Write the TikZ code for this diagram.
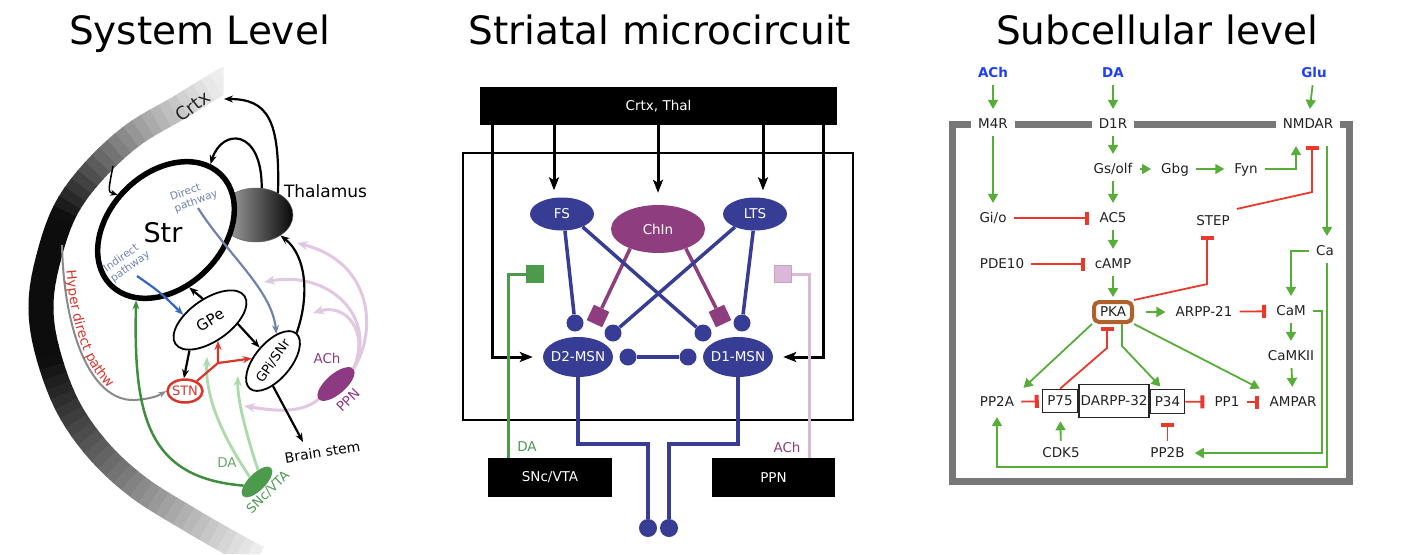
\documentclass[tikz,border=0pt]{standalone}
\usepackage{fontspec}
\setmainfont{DejaVu Sans}
\usetikzlibrary{arrows.meta,shapes.geometric,calc,decorations.text}
\definecolor{mblue}{HTML}{373D94}
\definecolor{mpurple}{HTML}{8E3E7E}
\definecolor{mgreen}{HTML}{4C9A4C}
\definecolor{lpurple}{HTML}{D9B8D9}
\definecolor{rgreen}{HTML}{56AD38}
\definecolor{rred}{HTML}{E8392C}
\definecolor{pkabrown}{HTML}{B0612B}
\definecolor{memgray}{HTML}{777777}
\definecolor{sigblue}{HTML}{1F3FF0}
\definecolor{dpath}{HTML}{6F84AD}
\definecolor{ipath}{HTML}{3566C2}
\definecolor{stnred}{HTML}{D9362B}
\definecolor{dagreen}{HTML}{3E8E3E}
\definecolor{lgreen}{HTML}{ABDBAB}
\definecolor{achpink}{HTML}{E2C7E2}
\definecolor{ppnpurple}{HTML}{8E3A82}
\definecolor{hdgray}{HTML}{8A8A8A}
\tikzset{
 sysarr/.style={line width=2.2pt, -{Stealth[length=9pt,width=7pt]}},
 thinarr/.style={line width=1.5pt, -{Stealth[length=7pt,width=6pt]}},
 pinkarr/.style={draw=achpink, line width=3pt, -{Stealth[length=11pt,width=9pt]}},
 lgarr/.style={draw=lgreen, line width=2.8pt, -{Stealth[length=10pt,width=8pt]}},
 redarr/.style={draw=stnred, line width=2.2pt, -{Stealth[length=9pt,width=7pt]}},
 marr/.style={line width=3pt, -{Stealth[length=13pt,width=10pt,inset=3pt]}},
 bline/.style={draw=mblue, line width=3.5pt},
 pline/.style={draw=mpurple, line width=3.5pt},
 syn/.style={circle, fill=mblue, minimum size=17pt, inner sep=0pt},
 psq/.style={rectangle, fill=mpurple, minimum size=17pt, inner sep=0pt},
 cell/.style={ellipse, inner sep=0pt},
 celltxt/.style={text=white, font=\fontsize{13.5}{16}\selectfont, inner sep=0pt},
 mbox/.style={fill=black, text=white, inner sep=0pt, font=\fontsize{13.5}{16}\selectfont},
 rt/.style={font=\fontsize{13.5}{16}\selectfont, text=black!87, inner xsep=7pt, inner ysep=7pt, text height=9.8pt, text depth=0pt},
 sig/.style={rt, font=\bfseries\fontsize{13.5}{16}\selectfont, text=sigblue},
 ga/.style={draw=rgreen, line width=1.8pt, shorten >=3pt, -{Triangle[length=9pt,width=10pt]}},
 ri/.style={draw=rred, line width=1.8pt, shorten >=3pt, -{Bar[width=13pt,line width=4pt]}},
 rbox/.style={draw=black!85, line width=1.5pt, inner sep=0pt, font=\fontsize{13.5}{16}\selectfont, text=black!87},
 memb/.style={draw=memgray, line width=7pt, line join=miter},
 ptxt/.style={text=dpath, font=\fontsize{10.5}{12}\selectfont, align=left, inner sep=0pt},
 lbl/.style={inner sep=0pt},
 ttl/.style={font=\fontsize{39}{44}\selectfont, inner sep=0pt, anchor=base},
}
\begin{document}
\begin{tikzpicture}[x=1pt,y=-1pt]
\useasboundingbox (0,0) rectangle (1404,554);
% ---------------- titles
\node[ttl] (t1) at (199.5,44) {System Level};
\node[ttl] (t2) at (660,44) {Striatal microcircuit};
\node[ttl] (t3) at (1157,44) {Subcellular level};

% ================= SYSTEM LEVEL =================
% cortex band
\begin{scope}
\clip (0,55) -- (223.5,55) -- (223.5,300) -- (320,554) -- (0,554) -- cycle;
\foreach \i in {0,...,68} {
  \pgfmathsetmacro{\dd}{10*\i}
  \pgfmathsetmacro{\ff}{\dd/670}
  \pgfmathtruncatemacro{\bk}{\ff<0.33 ? 6+89*pow(\ff/0.33,1.3) : (\ff<0.55 ? 95 : max(6,95-200*(\ff-0.55)))}
  \pgfmathsetmacro{\ph}{2011-\dd}
  \draw[line width=25pt, draw=black!\bk, dash pattern=on 11pt off 2000pt, dash phase=\ph pt]
    plot[smooth, tension=0.6] coordinates {(234,76) (221,82) (180,107) (133,135) (93,172) (65,211) (48,260) (41,305) (47,350) (67,405) (98,450) (138,487) (187,518) (232,544) (258,558)};
}
\end{scope}
\node[lbl, rotate=37, font=\fontsize{18}{20}\selectfont, text=black!85] (crtx) at (193,106) {Crtx};

% ACh (pink) projections
\node[ellipse, fill=ppnpurple, minimum width=46pt, minimum height=20pt, inner sep=0pt, rotate=41] (ppn) at (336,384) {};
\coordinate (pk1) at (297,243);
\coordinate (pk2) at (264,282);
\coordinate (pk3) at (313,313);
\coordinate (pk4) at (244,406);
\draw[pinkarr] (ppn.east) .. controls (378,330) and (372,262) .. (pk1);
\draw[pinkarr] (ppn.east) .. controls (378,318) and (330,270) .. (pk2);
\draw[pinkarr] (ppn.east) .. controls (370,330) and (345,303) .. (pk3);
\draw[pinkarr] (ppn.west) .. controls (300,415) and (270,410) .. (pk4);

% SNc/VTA and light green
\node[ellipse, fill=mgreen, minimum width=40pt, minimum height=17pt, inner sep=0pt, rotate=45] (snc) at (257,482) {};
\coordinate (lg1) at (207,357);
\coordinate (lg2) at (238,376);
\draw[lgarr] (snc.100) .. controls (225,440) and (205,400) .. (lg1);
\draw[lgarr] (snc.40) .. controls (248,440) and (237,400) .. (lg2);

% thalamus and striatum
\node[ellipse, minimum width=74pt, minimum height=54pt, inner sep=0pt, left color=black!30, right color=black!97, draw=black!60, line width=0.5pt] (thal) at (256,215) {};
\node[ellipse, draw, fill=white, line width=5.5pt, minimum width=156pt, minimum height=114pt, inner sep=0pt, rotate=45] (str) at (166,230) {};
\node[lbl, font=\fontsize{27}{30}\selectfont] (strlbl) at (163,233) {Str};
\node[lbl, font=\fontsize{17}{20}\selectfont] (thlbl) at (325.5,191) {Thalamus};
\node[ptxt, rotate=20] (dptxt) at (194,196) {Direct\\pathway};
\node[ptxt, rotate=35] (iptxt) at (127,262) {Indirect\\pathway};

% hyperdirect
\coordinate (hdstart) at (62,245);
\node[ellipse, draw=stnred, line width=2.5pt, fill=white, minimum width=35pt, minimum height=23pt, inner sep=0pt] (stn) at (185,391) {};
\node[lbl, text=stnred, font=\fontsize{13}{15}\selectfont] at (stn) {STN};
\draw[draw=hdgray, line width=2pt, -{Stealth[length=8pt,width=6pt]}] (hdstart) .. controls (64,335) and (92,402) .. (135,400) .. controls (150,399) and (158,396) .. (stn.180);
\path[decorate, decoration={text along path, text={|\fontsize{13.5}{16}\selectfont|Hyper direct pathw}, text color=stnred, raise=3pt, text align={left indent=26pt}}] (hdstart) .. controls (64,335) and (92,402) .. (135,400);

% DA dark green
\draw[draw=dagreen, line width=2.5pt, -{Stealth[length=9pt,width=7pt]}] (snc.150) .. controls (150,478) and (133,420) .. (str.-158);

% GPe and GPi
\node[ellipse, draw, fill=white, line width=1.8pt, minimum width=84pt, minimum height=42pt, inner sep=0pt, rotate=35] (gpe) at (210,320) {};
\node[lbl, rotate=32, font=\fontsize{15}{17}\selectfont] at (gpe) {GPe};
\node[ellipse, draw, fill=white, line width=1.8pt, minimum width=72pt, minimum height=36pt, inner sep=0pt, rotate=50] (gpi) at (273,361) {};
\node[lbl, rotate=55, font=\fontsize{13}{15}\selectfont] at (gpi) {GPi/SNr};

% black arrows
\coordinate (ctip1) at (224,99);
\draw[sysarr] (thal.45) .. controls (280,120) and (268,99) .. (ctip1);
\draw[sysarr] (thal.78) .. controls (262,128) and (222,128) .. (str.11);
\coordinate (cstart) at (113,166);
\draw[thinarr] (cstart) .. controls (108,192) .. (str.99);
\draw[sysarr] (gpe.74) -- (str.-113);
\draw[sysarr] (gpe.-159) -- (stn.95);
\draw[sysarr] (gpe.-43) -- (gpi.85);
\draw[sysarr] (gpi.0) .. controls (310,295) and (306,255) .. (thal.-40);
\coordinate (bstip) at (303,442);
\draw[sysarr] (gpi.-140) -- (bstip);

% pathways
\coordinate (ipstart) at (137,276);
\draw[draw=ipath, line width=2.2pt, -{Stealth[length=9pt,width=7pt]}] (ipstart) .. controls (160,292) .. (gpe.134);
\coordinate (dpstart) at (198,208);
\draw[draw=dpath, line width=2.2pt, -{Stealth[length=9pt,width=7pt]}] (dpstart) .. controls (228,255) and (272,290) .. (gpi.33);

% STN outputs
\coordinate (br) at (218,363);
\draw[draw=stnred, line width=2.2pt] (stn.40) -- (br);
\draw[redarr] (br) -- (gpe.-104);
\draw[redarr] (br) -- (gpi.123);

% labels
\node[lbl, font=\fontsize{14}{16}\selectfont, rotate=9] (bs) at (322.5,452) {Brain stem};
\node[lbl, font=\fontsize{13.5}{16}\selectfont, text=ppnpurple] (achl) at (327,358) {ACh};
\node[lbl, font=\fontsize{13.5}{16}\selectfont, text=ppnpurple, rotate=45] (ppnl) at (348,400) {PPN};
\node[lbl, font=\fontsize{13.5}{16}\selectfont, text=mgreen!85!white] (dal) at (227,463) {DA};
\node[lbl, font=\fontsize{13}{15}\selectfont, text=mgreen, rotate=45] (sncl) at (268,492) {SNc/VTA};

% ================= STRIATAL MICROCIRCUIT =================
\node[draw, line width=2pt, minimum width=390pt, minimum height=267pt, inner sep=0pt] (stri) at (658,286.5) {};
\node[mbox, minimum width=357pt, minimum height=38pt] (ct) at (658.5,106) {Crtx, Thal};
\node[mbox, minimum width=124pt, minimum height=39pt] (sncbox) at (550,477.5) {SNc/VTA};
\node[mbox, minimum width=123pt, minimum height=39pt] (ppnbox) at (773.5,477.5) {PPN};

\node[cell, fill=mblue, minimum width=64pt, minimum height=33pt, label={[celltxt]center:FS}] (fs) at (562,214) {};
\node[cell, fill=mpurple, minimum width=94pt, minimum height=48pt, label={[celltxt]center:ChIn}] (chin) at (658,229) {};
\node[cell, fill=mblue, minimum width=64pt, minimum height=33pt, label={[celltxt]center:LTS}] (lts) at (755,214) {};
\node[cell, fill=mblue, minimum width=70pt, minimum height=40pt, label={[celltxt]center:D2-MSN}] (d2) at (578,357) {};
\node[cell, fill=mblue, minimum width=70pt, minimum height=40pt, label={[celltxt]center:D1-MSN}] (d1) at (738,357) {};

\node[syn] (sfd2) at (575,323) {};
\node[syn] (sld2) at (613,333) {};
\node[syn] (sfd1) at (703,333) {};
\node[syn] (sld1) at (742,323) {};
\node[syn] (sd2) at (628,357) {};
\node[syn] (sd1) at (688,357) {};
\node[syn, minimum size=18pt] (so2) at (648,528) {};
\node[syn, minimum size=18pt] (so1) at (669,528) {};
\node[psq, rotate=-25] (sq2) at (598,316) {};
\node[psq, rotate=25] (sq1) at (720,316) {};

\draw[pline] (chin.-145) -- (sq2);
\draw[pline] (chin.-35) -- (sq1);
\draw[bline] (fs.-80) -- (sfd2);
\draw[bline] (fs.-32) -- (sfd1);
\draw[bline] (lts.-147) -- (sld2);
\draw[bline] (lts.-96) -- (sld1);
\draw[bline] (sd2) -- (sd1);
\draw[bline] (d2.south) |- ([yshift=84pt]so2.center) -- (so2);
\draw[bline] (d1.south) |- ([yshift=84pt]so1.center) -- (so1);

\draw[marr] ([xshift=-8pt]fs.north |- ct.south) -- ([xshift=-8pt,yshift=7pt]fs.north);
\draw[marr] (chin.north |- ct.south) -- ([yshift=12pt]chin.north);
\draw[marr] ([xshift=8pt]lts.north |- ct.south) -- ([xshift=8pt,yshift=7pt]lts.north);
\draw[marr] ([xshift=13pt]ct.south west) |- ([xshift=-10pt]d2.west);
\draw[marr] ([xshift=-14pt]ct.south east) |- ([xshift=10pt]d1.east);

\node[rectangle, fill=mgreen, minimum size=18pt, inner sep=0pt] (dasq) at (535,274) {};
\node[rectangle, fill=lpurple, draw=lpurple!80!mpurple, line width=0.8pt, minimum size=17pt, inner sep=0pt] (achsq) at (783,274) {};
\draw[draw=mgreen, line width=3pt] ([xshift=-42pt]sncbox.north) |- (dasq);
\draw[draw=lpurple, line width=3pt] ([xshift=35.5pt]ppnbox.north) |- (achsq);
\node[lbl, text=mgreen, font=\fontsize{13.5}{16}\selectfont] (dal2) at (527,447) {DA};
\node[lbl, text=mpurple, font=\fontsize{13.5}{16}\selectfont] (achl2) at (787,447) {ACh};

% ================= SUBCELLULAR =================
\node[sig] (ach) at (993,73) {ACh};
\node[sig] (da) at (1113,73) {DA};
\node[sig] (glu) at (1314,73) {Glu};
\node[rt] (m4r) at (993,124) {M4R};
\node[rt] (d1r) at (1113,124) {D1R};
\node[rt] (nmdar) at (1308,124) {NMDAR};
\node[rt] (gsolf) at (1113,169) {Gs/olf};
\node[rt] (gbg) at (1175,169) {Gbg};
\node[rt] (fyn) at (1246,169) {Fyn};
\node[rt] (gio) at (993,218) {Gi/o};
\node[rt] (ac5) at (1113,218) {AC5};
\node[rt] (stepn) at (1213,221) {STEP};
\node[rt] (pde) at (1002,264) {PDE10};
\node[rt] (camp) at (1113,264) {cAMP};
\node[rt] (ca) at (1325,251) {Ca};
\node[rt, draw=pkabrown, line width=4pt, rounded corners=5pt, inner sep=0pt, minimum width=38pt, minimum height=20pt] (pka) at (1113,312) {PKA};
\node[rt] (arpp) at (1204,312) {ARPP-21};
\node[rt] (cam) at (1291,311) {CaM};
\node[rt] (camkii) at (1291,356) {CaMKII};
\node[rt] (pp2a) at (997,402) {PP2A};
\node[rbox, minimum width=35pt, minimum height=23pt] (p75) at (1060,401) {P75};
\node[rbox, minimum width=70pt, minimum height=33pt] (darpp) at (1114,401) {DARPP-32};
\node[rbox, minimum width=34pt, minimum height=24pt] (p34) at (1167.5,401.5) {P34};
\node[rt] (pp1) at (1227,402) {PP1};
\node[rt] (ampar) at (1293,402) {AMPAR};
\node[rt] (cdk5) at (1061,453) {CDK5};
\node[rt] (pp2b) at (1167.5,453) {PP2B};

% membrane
\draw[memb] (m4r.west) -- (952,124) -- (952,481.5) -- (1349,481.5) -- (1349,124) -- (nmdar.east);
\draw[memb] (m4r.east) -- (d1r.west);
\draw[memb] (d1r.east) -- (nmdar.west);

% green activations
\draw[ga] (ach) -- (m4r);
\draw[ga] (da) -- (d1r);
\draw[ga] (glu) -- (nmdar);
\draw[ga] (m4r) -- (gio);
\draw[ga] (d1r) -- (gsolf);
\draw[ga] (gsolf) -- (gbg);
\draw[ga] (gbg) -- (fyn);
\draw[ga, shorten >=10pt] (fyn.east) -| ([xshift=-12pt]nmdar.south);
\draw[ga] (gsolf) -- (ac5);
\draw[ga] (ac5) -- (camp);
\draw[ga] (camp) -- (pka);
\draw[ga, shorten <=10pt] ([xshift=19pt]nmdar.south) -- ([xshift=2pt]ca.north);
\draw[ga] (ca.west) -| (cam.north);
\draw[ga, shorten <=12pt] (pka) -- (arpp);
\draw[ga] (cam) -- (camkii);
\draw[ga] (camkii) -- (ampar);
\draw[ga] (cam.east) -- ++(9,0) |- (pp2b.east);
\draw[ga] ([xshift=2pt]ca.south) -- ++(0,204) -| (pp2a.south);
\draw[ga] (pka.south west) -- (pp2a.north east);
\draw[ga] ([xshift=9pt]pka.south) -- ++(0,22) -- ([xshift=-5pt]p34.north);
\draw[ga] (pka.south east) -- (ampar.north west);
\draw[ga, shorten >=8pt] (cdk5) -- (p75);

% red inhibitions
\draw[ri] (gio) -- (ac5);
\draw[ri] (pde) -- (camp);
\draw[ri] (pka.north east) -- ([xshift=-6pt,yshift=-51pt]stepn.south) -- ([xshift=-6pt]stepn.south);
\draw[ri, shorten >=10pt] (stepn.north east) -- ([xshift=4pt,yshift=-56pt]nmdar.south) -- ([xshift=4pt]nmdar.south);
\draw[ri] (p75.north) -- ([xshift=-6pt,yshift=-24pt]pka.south) -- ([xshift=-6pt]pka.south);
\draw[ri] (pp2a) -- (p75);
\draw[ri] (p34) -- (pp1);
\draw[ri] (pp1) -- (ampar);
\draw[ri] (arpp) -- (cam);
\draw[ri, shorten >=9pt] (pp2b) -- (p34);
\end{tikzpicture}
\end{document}
